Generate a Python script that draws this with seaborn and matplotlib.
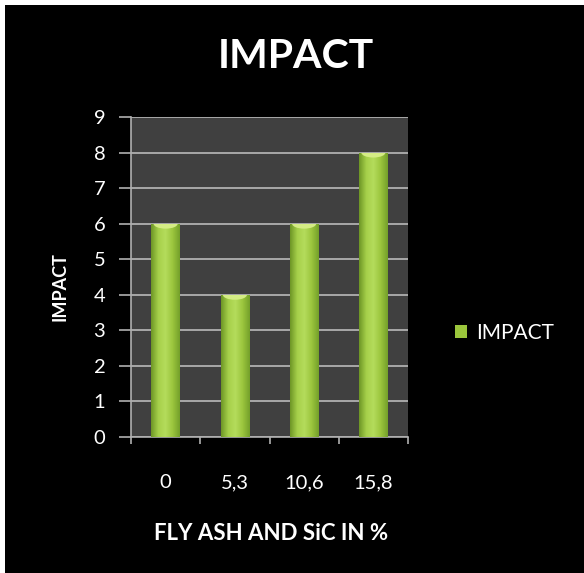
import numpy as np
import pandas as pd
import matplotlib
import matplotlib.pyplot as plt
import seaborn as sns
from matplotlib.colors import LinearSegmentedColormap
from matplotlib.patches import Rectangle, Ellipse

matplotlib.use('Agg')

# data
categories = ['0', '5,3', '10,6', '15,8']
impact = [6, 4, 6, 8]
series_name = 'IMPACT'

df = pd.DataFrame({'mix': categories, 'impact': impact})

sns.set_style('dark')
plt.rcParams['font.family'] = ['Lato', 'DejaVu Sans']

fig = plt.figure(figsize=(5.84, 5.73), dpi=100, facecolor='white')
# black chart area, white strip at top/left only
fig.patches.append(Rectangle((5 / 584, -0.1), 1.2, 1.1 - 5 / 573, transform=fig.transFigure,
                             facecolor='black', edgecolor='none', zorder=-10))

ax = fig.add_axes([131 / 584, 136 / 573, 277 / 584, 320 / 573])
ax.set_facecolor('#404040')

sns.barplot(data=df, x='mix', y='impact', ax=ax, color='#9bc63c', width=0.41,
            saturation=1, edgecolor='none', zorder=3)

# gradient look on the bars
cmap = LinearSegmentedColormap.from_list(
    'bar', ['#6e9626', '#a6d04a', '#b4dc5c', '#9cc63e', '#74a02a'])
grad = np.linspace(0, 1, 64).reshape(1, -1)
for patch in ax.patches:
    x0, y0 = patch.get_x(), patch.get_y()
    w, h = patch.get_width(), patch.get_height()
    im = ax.imshow(grad, cmap=cmap, aspect='auto', extent=[x0, x0 + w, y0, y0 + h],
                   zorder=4)
    im.set_clip_path(patch)
    top = Ellipse((x0 + w / 2, y0 + h), w * 0.85, 0.28, facecolor='#d4ec84',
                  edgecolor='none', zorder=5)
    ax.add_patch(top)
    top.set_clip_path(patch)

ax.set_xlim(-0.5, len(categories) - 0.5)
ax.set_ylim(0, 9)
ax.set_yticks(range(0, 10))
ax.grid(axis='y', color='#a8a8a8', linewidth=1.4, zorder=1)
ax.grid(axis='x', visible=False)

# labels at bar centres, tick marks on the category boundaries
ax.set_xticks(range(len(categories)))
ax.set_xticklabels(categories)
ax.set_xticks(np.arange(-0.5, len(categories)), minor=True)
ax.tick_params(axis='x', which='major', length=0, pad=27, colors='white', labelsize=14.5)
ax.tick_params(axis='x', which='minor', length=5, width=1.2, color='#b0b0b0', bottom=True)
ax.tick_params(axis='y', length=8.5, width=1.2, color='#b0b0b0', labelcolor='white',
               labelsize=14.5, pad=10, left=True)

for side in ['top', 'right']:
    ax.spines[side].set_visible(False)
for side in ['left', 'bottom']:
    ax.spines[side].set_visible(True)
    ax.spines[side].set_color('#b0b0b0')
    ax.spines[side].set_linewidth(1.2)

ax.set_xlabel('')
ax.set_ylabel('')

fig.text(296 / 584, 1 - 56 / 573, 'IMPACT', color='white', fontsize=29.5,
         fontweight='bold', ha='center', va='center')
fig.text(60 / 584, 1 - 287 / 573, 'IMPACT', color='white', fontsize=13,
         fontweight='bold', ha='center', va='center', rotation=90)
fig.text(271 / 584, 1 - 533 / 573, 'FLY ASH AND SiC IN %', color='white', fontsize=16,
         fontweight='bold', ha='center', va='center')

handle = Rectangle((0, 0), 1, 1, facecolor='#9bc63c', edgecolor='none')
leg = fig.legend([handle], [series_name], loc='center left',
                 bbox_to_anchor=(436 / 584, 1 - 333 / 573), frameon=False,
                 handlelength=0.6, handleheight=0.6, handletextpad=0.45,
                 fontsize=15)
for t in leg.get_texts():
    t.set_color('white')

fig.savefig('out.png', dpi=100, facecolor=fig.get_facecolor())
plt.close(fig)
